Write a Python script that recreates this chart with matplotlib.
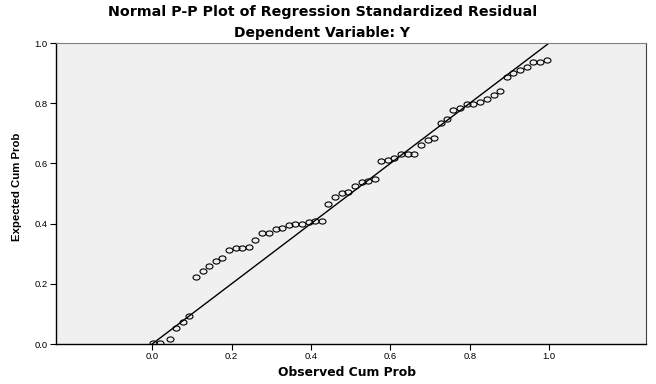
import numpy as np
import matplotlib
matplotlib.use('Agg')
import matplotlib.pyplot as plt
from matplotlib.path import Path
from matplotlib import font_manager

plt.rcParams['font.family'] = ['Liberation Sans', 'DejaVu Sans']

# Observed cumulative probability (x) and expected cumulative probability (y)
observed = [0.003, 0.021, 0.044, 0.060, 0.077, 0.094, 0.111, 0.127, 0.144, 0.161,
            0.176, 0.193, 0.211, 0.227, 0.244, 0.260, 0.277, 0.294, 0.311, 0.327,
            0.344, 0.361, 0.378, 0.394, 0.411, 0.427, 0.444, 0.461, 0.478, 0.494,
            0.511, 0.528, 0.545, 0.562, 0.577, 0.594, 0.610, 0.627, 0.644, 0.660,
            0.678, 0.694, 0.710, 0.727, 0.743, 0.759, 0.776, 0.793, 0.809, 0.826,
            0.843, 0.860, 0.877, 0.893, 0.910, 0.927, 0.944, 0.960, 0.977, 0.994]
expected = [0.003, 0.004, 0.018, 0.052, 0.073, 0.093, 0.223, 0.242, 0.260, 0.277,
            0.287, 0.313, 0.318, 0.320, 0.323, 0.347, 0.369, 0.369, 0.382, 0.386,
            0.396, 0.398, 0.400, 0.407, 0.410, 0.410, 0.465, 0.489, 0.501, 0.504,
            0.525, 0.538, 0.543, 0.547, 0.607, 0.611, 0.618, 0.630, 0.631, 0.632,
            0.661, 0.678, 0.683, 0.733, 0.746, 0.779, 0.785, 0.796, 0.797, 0.805,
            0.815, 0.826, 0.841, 0.888, 0.901, 0.911, 0.921, 0.938, 0.938, 0.944]

ref_line = [0.0, 1.0]
ticks = [0.0, 0.2, 0.4, 0.6, 0.8, 1.0]
tick_labels = ['0.0', '0.2', '0.4', '0.6', '0.8', '1.0']

# the source image is stretched sideways, so circles come out as flat ovals
circ = Path.unit_circle()
oval = Path(circ.vertices * [1.35, 1.0], circ.codes)

# the y label in the original is a condensed bold face
names = {f.name for f in font_manager.fontManager.ttflist}
if 'Liberation Sans Narrow' in names:
    ylab_font = dict(family='Liberation Sans Narrow', fontsize=10)
else:
    ylab_font = dict(family='Liberation Sans', fontsize=8.2)
wide = ['DejaVu Sans']

fig = plt.figure(figsize=(6.56, 3.84), dpi=100)
fig.patch.set_facecolor('white')
ax = fig.add_axes([0.0854, 0.104, 0.8994, 0.784])
ax.set_facecolor('#f0f0f0')

ax.plot(ref_line, ref_line, color='black', lw=1.0, zorder=2)
ax.plot(observed, expected, linestyle='none', marker=oval, ms=5.0,
        mfc='none', mec='black', mew=0.8, zorder=3)

ax.set_xlim(-0.242, 1.244)
ax.set_ylim(0, 1)
ax.set_xticks(ticks)
ax.set_xticklabels(tick_labels)
ax.set_yticks(ticks)
ax.set_yticklabels(tick_labels)
ax.tick_params(direction='out', length=4, width=0.8, labelsize=6.8, pad=2, colors='black')

for side in ['left', 'bottom']:
    ax.spines[side].set_color('black')
    ax.spines[side].set_linewidth(1.0)
ax.spines['top'].set_color('#808080')
ax.spines['right'].set_color('#404040')

fig.text(346.5 / 656, 1 - 373 / 384, 'Observed Cum Prob', family=wide,
         ha='center', va='center', fontsize=8.9, fontweight='bold')
fig.text(17 / 656, 1 - 186.5 / 384, 'Expected Cum Prob',
         ha='center', va='center', rotation=90, fontweight='bold', **ylab_font)

fig.text(322.5 / 656, 1 - 12 / 384, 'Normal P-P Plot of Regression Standardized Residual',
         family=wide, ha='center', va='center', fontsize=10.3, fontweight='bold')
fig.text(321.5 / 656, 1 - 33 / 384, 'Dependent Variable: Y',
         family=wide, ha='center', va='center', fontsize=10, fontweight='bold')

fig.savefig('out.png', dpi=100)
